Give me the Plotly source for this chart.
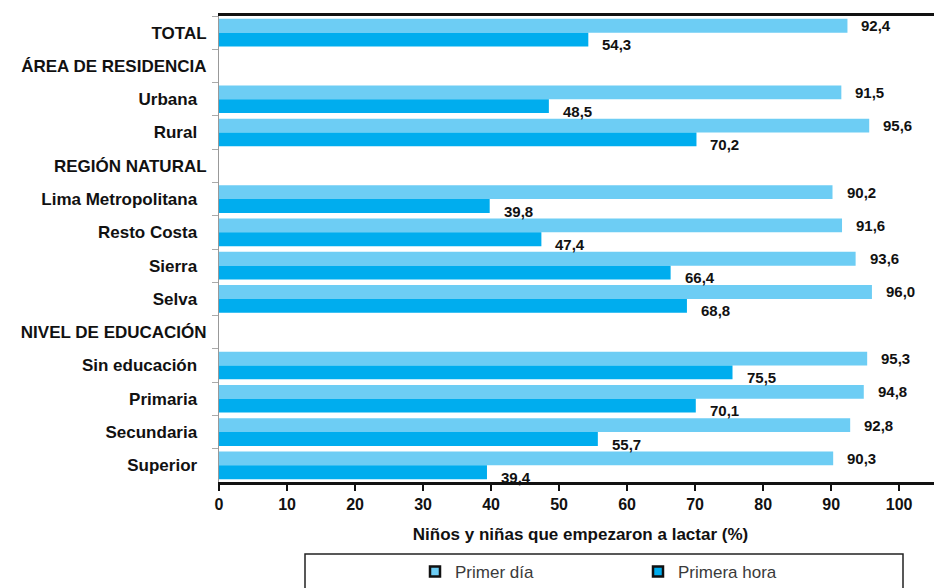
import plotly.graph_objects as go

categories = ["TOTAL", "ÁREA DE RESIDENCIA", "Urbana", "Rural", "REGIÓN NATURAL",
              "Lima Metropolitana", "Resto Costa", "Sierra", "Selva",
              "NIVEL DE EDUCACIÓN", "Sin educación", "Primaria", "Secundaria", "Superior"]
headers = {"TOTAL", "ÁREA DE RESIDENCIA", "REGIÓN NATURAL", "NIVEL DE EDUCACIÓN"}
primer_dia = [92.4, None, 91.5, 95.6, None, 90.2, 91.6, 93.6, 96.0, None, 95.3, 94.8, 92.8, 90.3]
primera_hora = [54.3, None, 48.5, 70.2, None, 39.8, 47.4, 66.4, 68.8, None, 75.5, 70.1, 55.7, 39.4]
x_ticks = [0, 10, 20, 30, 40, 50, 60, 70, 80, 90, 100]

c_light = "#6dcdf4"
c_dark = "#00adee"
FONT = "Liberation Sans Narrow, Arial Narrow, Liberation Sans, sans-serif"

ylabels = [c if c in headers else c + "\u00a0\u00a0" for c in categories]

def fmt(v):
    return "" if v is None else f"{v:.1f}".replace(".", ",")

fig = go.Figure()
fig.add_trace(go.Bar(y=ylabels, x=primer_dia, orientation="h", name="Primer día",
                     marker=dict(color=c_light, line=dict(width=0)), showlegend=False))
fig.add_trace(go.Bar(y=ylabels, x=primera_hora, orientation="h", name="Primera hora",
                     marker=dict(color=c_dark, line=dict(width=0)), showlegend=False))
# legend-only entries (black-framed swatches as in the original)
for nm, col in [("Primer día", c_light), ("Primera hora", c_dark)]:
    fig.add_trace(go.Scatter(x=[None], y=[None], mode="markers", name=nm,
                             marker=dict(symbol="square", size=10, color=col,
                                         line=dict(color="#111", width=2.5))))

ann = []
for lab, v1, v2 in zip(ylabels, primer_dia, primera_hora):
    if v1 is not None:
        ann.append(dict(x=v1, y=lab, text=fmt(v1), xanchor="left", yanchor="middle",
                        xshift=12, yshift=7, showarrow=False,
                        font=dict(family=FONT, size=15, color="#111", weight="bold")))
    if v2 is not None:
        ann.append(dict(x=v2, y=lab, text=fmt(v2), xanchor="left", yanchor="middle",
                        xshift=12, yshift=-12, showarrow=False,
                        font=dict(family=FONT, size=15, color="#111", weight="bold")))

# page offset of 8px (body margin): figure occupies screen 8..942 x 8..588
OFF = 8
W, H = 942 - OFF, 588 - OFF
L, T, B = 219 - OFF, 16 - OFF, 482 - OFF
PW, PH = W - L, B - T

def px(xs):
    return (xs - OFF - L) / PW

def py(ys):
    return (B - (ys - OFF)) / PH

fig.update_layout(
    width=W, height=H,
    margin=dict(l=L, r=0, t=T, b=H - B, autoexpand=False),
    paper_bgcolor="white", plot_bgcolor="white",
    barmode="group", bargap=0.17, bargroupgap=0.0,
    font=dict(family=FONT, size=15, color="#111"),
    annotations=ann,
    showlegend=True,
    legend=dict(orientation="h", x=px(415), xanchor="left",
                y=py(572), yanchor="middle",
                font=dict(family=FONT, size=17, color="#3a3a3a"),
                entrywidth=178, entrywidthmode="pixels", itemwidth=30,
                bgcolor="rgba(0,0,0,0)"),
    shapes=[dict(type="rect", xref="paper", yref="paper",
                 x0=px(305), x1=px(903), y0=py(554), y1=py(610),
                 line=dict(color="#222", width=1.5), fillcolor="rgba(0,0,0,0)")],
)
fig.update_xaxes(range=[0, 106.3], tickvals=x_ticks, ticktext=[str(t) for t in x_ticks],
                 automargin=False,
                 showgrid=False, zeroline=False,
                 showline=True, linecolor="#111", linewidth=3, mirror=True,
                 ticks="outside", ticklen=6, tickwidth=2, tickcolor="#111",
                 tickfont=dict(family=FONT, size=16, color="#111", weight="bold"),
                 title=dict(text="<b>Niños y niñas que empezaron a lactar (%)</b>",
                            font=dict(family=FONT, size=17, color="#111"), standoff=16))
fig.update_yaxes(range=[len(categories) - 0.5, -0.5], automargin=False,
                 showgrid=False, zeroline=False,
                 showline=True, linecolor="#999", linewidth=1,
                 ticks="outside", ticklen=6, tickcolor="#aaa", tickson="boundaries",
                 ticklabelstandoff=8,
                 tickfont=dict(family=FONT, size=17, color="#111", weight="bold"))

fig.write_html("out.html")
